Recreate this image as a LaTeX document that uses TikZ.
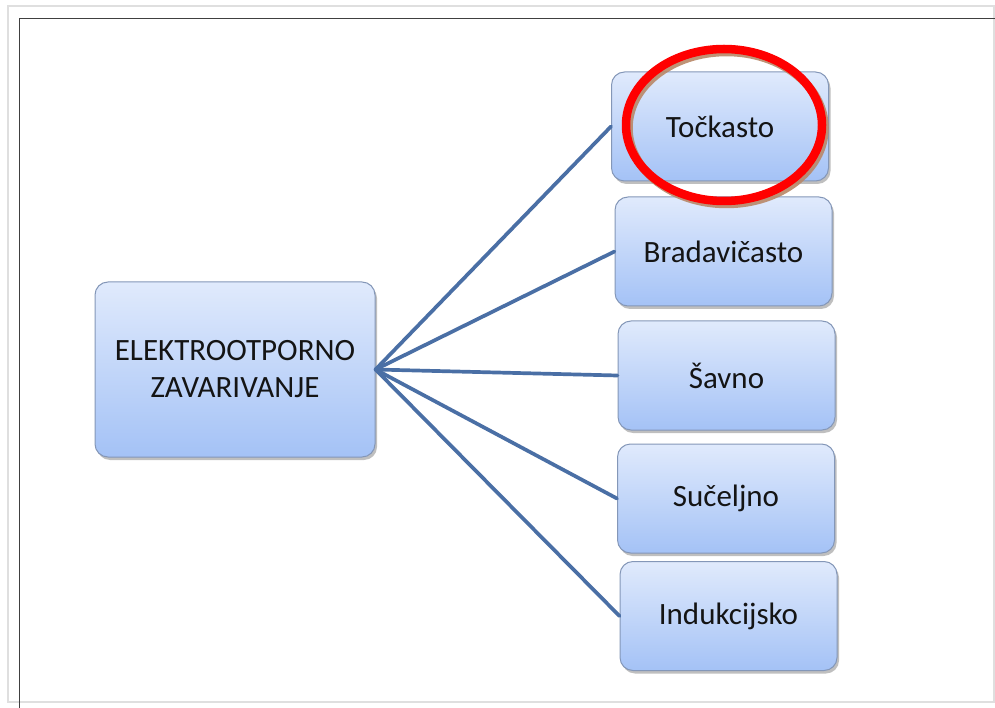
\documentclass[tikz,border=0pt]{standalone}
\usepackage{fontspec}
\setmainfont{Carlito}
\usetikzlibrary{shadows,shapes.geometric}
\definecolor{boxtop}{HTML}{E0EAFC}
\definecolor{boxbot}{HTML}{A4C2F6}
\definecolor{boxline}{HTML}{8497B8}
\definecolor{linkcol}{HTML}{4A6FA5}
\definecolor{txtcol}{HTML}{141414}
\definecolor{ringshadow}{HTML}{B98868}
\tikzset{
  boxstyle/.style={rectangle, rounded corners=13pt, draw=boxline, line width=1pt,
    top color=boxtop, bottom color=boxbot, inner sep=0pt,
    drop shadow={shadow xshift=2pt, shadow yshift=-3pt, opacity=0.25, fill=black},
    font=\fontsize{31}{37}\selectfont, text=txtcol, align=center},
  leaf/.style={boxstyle, minimum width=217pt, minimum height=109pt},
  link/.style={draw=linkcol, line width=3.7pt, line cap=round},
  ring/.style={ellipse, draw=red, line width=8.5pt, inner sep=0pt,
    minimum width=196pt, minimum height=152pt},
  ringsh/.style={ellipse, draw=ringshadow, line width=8.5pt, inner sep=0pt,
    minimum width=196pt, minimum height=152pt, opacity=0.9},
}
\begin{document}
\begin{tikzpicture}[x=1pt,y=-1pt]
\useasboundingbox (0,0) rectangle (995,708);
\fill[white] (0,0) rectangle (995,708);
% frame
\draw[gray!25, line width=2pt] (8,6) rectangle (994,702);
\draw[black!75, line width=1.6pt] (19.5,708) -- (19.5,18.5) -- (995,18.5);
% nodes
\node[boxstyle, minimum width=280pt, minimum height=175pt] (root) at (235,369.5) {ELEKTROOTPORNO\\ZAVARIVANJE};
\node[leaf] (t1) at (720,126.5) {Točkasto};
\node[leaf] (t2) at (723.5,251.5) {Bradavičasto};
\node[leaf] (t3) at (726.5,375.5) {Šavno};
\node[leaf] (t4) at (726,498.5) {Sučeljno};
\node[leaf] (t5) at (728.5,616) {Indukcijsko};
% connectors
\foreach \t in {t1,t2,t3,t4,t5}
  \draw[link] (root.east) -- (\t.west);
% highlight ring
\node[ringsh] (hlsh) at (726.5,128) {};
\node[ring] (hl) at (724,125) {};
\end{tikzpicture}
\end{document}
